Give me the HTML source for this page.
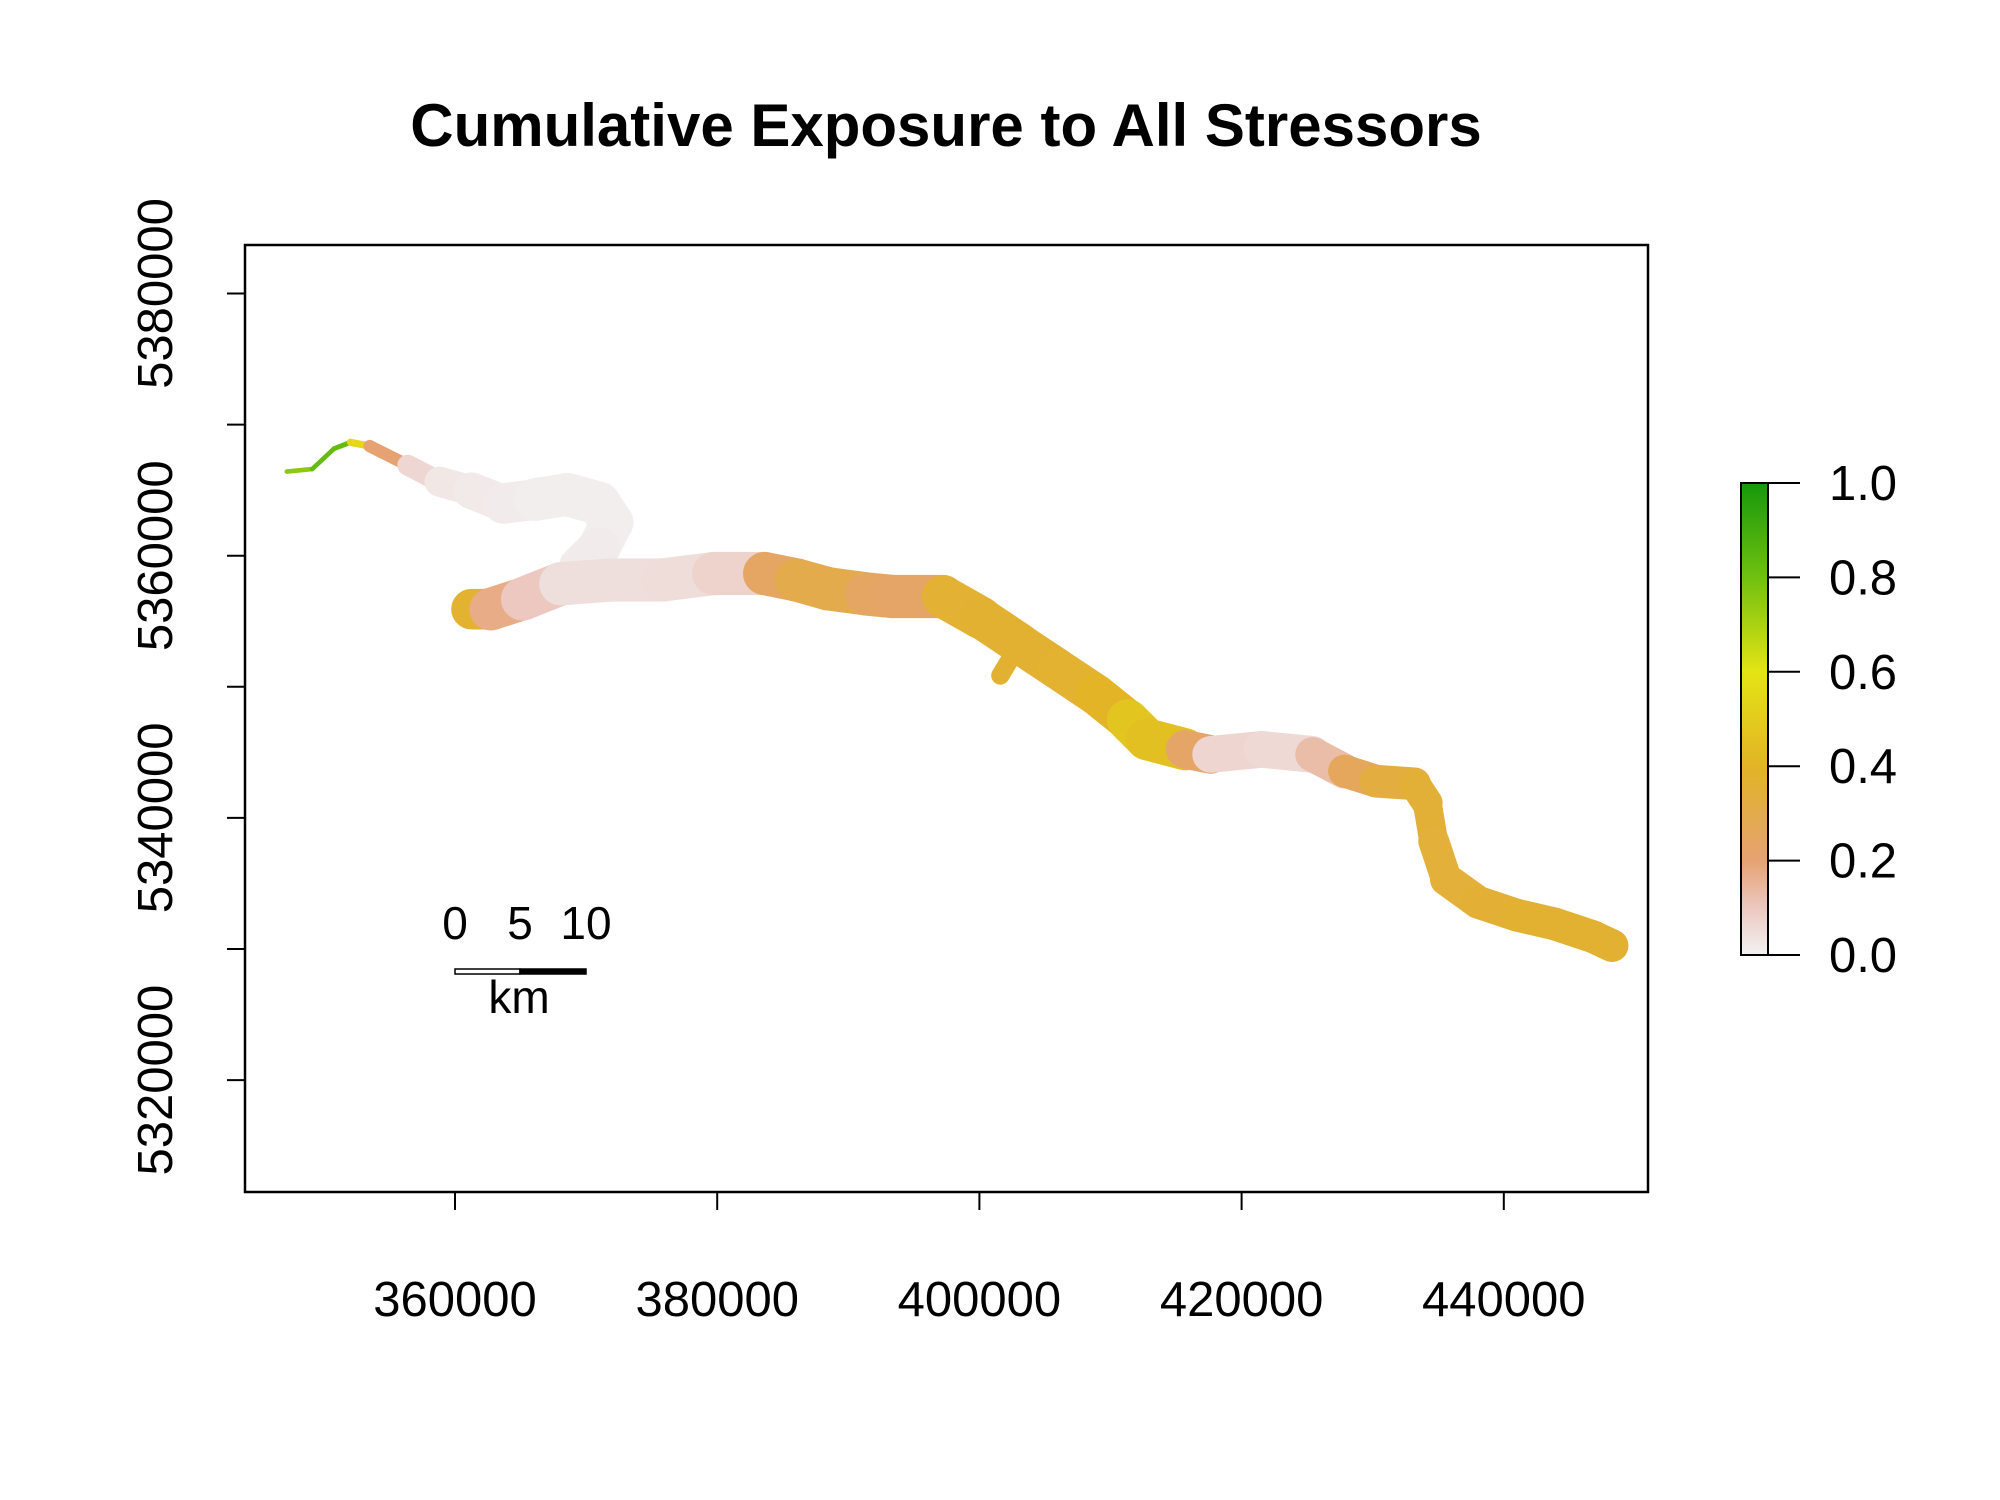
<!DOCTYPE html>
<html><head><meta charset="utf-8"><style>
html,body{margin:0;padding:0;background:#fff;}
svg{display:block;font-family:"Liberation Sans",Arial,sans-serif;}
</style></head><body>
<svg id="chart" width="2000" height="1500" viewBox="0 0 2000 1500">
<defs>
<linearGradient id="leg" x1="0" y1="1" x2="0" y2="0">
<stop offset="0" stop-color="#f2f2f2"/>
<stop offset="0.1" stop-color="#ecc8c0"/>
<stop offset="0.2" stop-color="#e6a272"/>
<stop offset="0.4" stop-color="#e2b426"/>
<stop offset="0.6" stop-color="#e4e414"/>
<stop offset="0.8" stop-color="#70c010"/>
<stop offset="1" stop-color="#16980a"/>
</linearGradient>
</defs>
<text x="946" y="146" text-anchor="middle" font-size="60" font-weight="bold">Cumulative Exposure to All Stressors</text>
<g id="river"></g>
<rect x="245" y="245" width="1403" height="947" fill="none" stroke="#000" stroke-width="2.5"/>
<g id="axes"></g>
<g>
<text x="455" y="939" text-anchor="middle" font-size="46">0</text>
<text x="520" y="939" text-anchor="middle" font-size="46">5</text>
<text x="586" y="939" text-anchor="middle" font-size="46">10</text>
<rect x="455" y="969" width="65" height="5" fill="#fff" stroke="#000" stroke-width="1.5"/>
<rect x="520" y="969" width="66" height="5" fill="#000" stroke="#000" stroke-width="1.5"/>
<text x="519" y="1013" text-anchor="middle" font-size="46">km</text>
</g>
<g>
<rect x="1741" y="483" width="27" height="472" fill="url(#leg)" stroke="#000" stroke-width="2"/>
<g id="legticks"></g>
</g>
</svg>
<script>
const xTicks=[360000,380000,400000,420000,440000];
const yTicks=[5320000,5330000,5340000,5350000,5360000,5370000,5380000];
const yLabels=[5320000,5340000,5360000,5380000];
const legendTicks=[0,0.2,0.4,0.6,0.8,1.0];
// upper (western) branch
const branchX=[347170,349110,350770,352030,353490,356400,358830,361260,363690,366120,368550,370980,371960,370980,369530];
const branchY=[5366420,5366610,5368160,5368650,5368360,5366900,5365640,5364960,5363990,5364280,5364670,5363990,5362530,5360580,5359130];
const branchV=[0.7,0.8,0.85,0.8,0.3,0.1,0.03,0.02,0.02,0.01,0.01,0.01,0.01,0.01,0.02];
const branchW=[350,350,350,400,700,1200,2000,2600,3000,3200,3300,3300,3300,3200,3200];
// main channel
const mainX=[361260,362720,365150,368070,371960,375840,379730,383620,386050,388480,391400,393340,397230,400140,403060,405980,408890,411320,412780,415700,417640,421530,425420,427850,430270,433190,434160,434650,435620,438050,440970,443880,446800,448260];
const mainY=[5355920,5355920,5356700,5357860,5358150,5358150,5358640,5358640,5358150,5357470,5357080,5356890,5356890,5355240,5353290,5351350,5349410,5347460,5346000,5345230,5344840,5345230,5344840,5343570,5342800,5342600,5341140,5338230,5335310,5333560,5332590,5331910,5330940,5330260];
const mainV=[0.55,0.2,0.15,0.05,0.04,0.05,0.05,0.1,0.38,0.22,0.38,0.1,0.36,0.37,0.37,0.37,0.38,0.42,0.52,0.38,0.08,0.06,0.06,0.2,0.32,0.35,0.36,0.35,0.35,0.35,0.37,0.37,0.37,0.37];
const mainW=[3000,3200,3300,3300,3300,3300,3300,3300,3300,3300,3300,3300,3300,3200,3100,3100,3100,3100,3300,3100,2800,2800,2800,2500,2500,2500,2200,2200,2500,2500,2500,2500,2500,2500];
// side spur
const spurX=[403060,401600];
const spurY=[5353290,5350860];
const spurV=[0.37,0.37];
const spurW=[1400,1400];

const NS='http://www.w3.org/2000/svg';
const X0=455,XS=262.2/20000,Y0=555.7,YS=262.2/20000;
function sx(v){return X0+(v-360000)*XS;}
function sy(v){return Y0-(v-5360000)*YS;}
function sl(v){return 955-v*472;}
const stops=[[0,[242,242,242]],[0.1,[236,200,192]],[0.2,[230,162,114]],[0.4,[226,180,38]],[0.6,[228,228,20]],[0.8,[112,192,16]],[1,[22,152,10]]];
function col(v){for(let i=1;i<stops.length;i++){if(v<=stops[i][0]){const a=stops[i-1],b=stops[i];const t=(v-a[0])/(b[0]-a[0]);const c=a[1].map((x,k)=>Math.round(x+(b[1][k]-x)*t));return 'rgb('+c.join(',')+')';}}return 'rgb(22,152,10)';}
function mk(tag,attrs,parent){const e=document.createElementNS(NS,tag);for(const k in attrs)e.setAttribute(k,attrs[k]);parent.appendChild(e);return e;}
const river=document.getElementById('river');
function drawSeries(X,Y,V,W,name){
  for(let i=0;i<X.length-1;i++){
    const l=mk('line',{x1:sx(X[i]),y1:sy(Y[i]),x2:sx(X[i+1]),y2:sy(Y[i+1]),stroke:col((V[i]+V[i+1])/2),'stroke-width':((W[i]+W[i+1])/2)*XS,'stroke-linecap':'round'},river);
    
    
  }
}
drawSeries(spurX,spurY,spurV,spurW,'spur');
drawSeries(branchX,branchY,branchV,branchW,'branch');
drawSeries(mainX,mainY,mainV,mainW,'main-channel');
const axes=document.getElementById('axes');
xTicks.forEach(v=>{
  const t=mk('line',{x1:sx(v),x2:sx(v),y1:1192,y2:1210,stroke:'#000','stroke-width':2},axes);
  
  
  const tx=mk('text',{x:sx(v),y:1316,'text-anchor':'middle','font-size':49},axes);
  tx.textContent=v;
  
  
});
yTicks.forEach(v=>{
  const t=mk('line',{x1:227,x2:245,y1:sy(v),y2:sy(v),stroke:'#000','stroke-width':2},axes);
  
  
});
yLabels.forEach(v=>{
  const tx=mk('text',{x:0,y:0,'text-anchor':'middle','font-size':49,transform:'translate(172,'+sy(v)+') rotate(-90)'},axes);
  tx.textContent=v;
  
  
});
const lg=document.getElementById('legticks');
legendTicks.forEach(v=>{
  const t=mk('line',{x1:1768,x2:1800,y1:sl(v),y2:sl(v),stroke:'#000','stroke-width':2},lg);
  
  
  const tx=mk('text',{x:1863,y:sl(v)+17,'text-anchor':'middle','font-size':49},lg);
  tx.textContent=v.toFixed(1);
  
  
});
</script>
</body></html>
